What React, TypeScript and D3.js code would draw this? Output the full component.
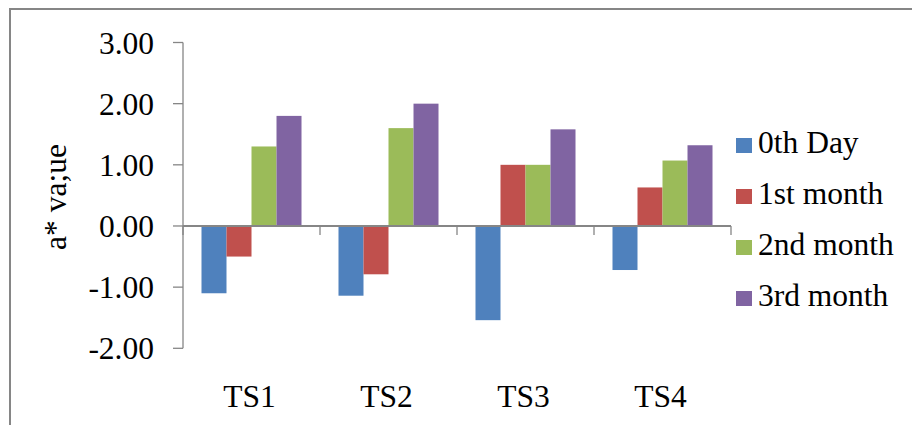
import React from "react";
import * as d3 from "d3";

const categories = ["TS1", "TS2", "TS3", "TS4"];
const seriesNames = ["0th Day", "1st month", "2nd month", "3rd month"];
const day0 = [-1.1, -1.14, -1.54, -0.72];
const month1 = [-0.5, -0.79, 1.0, 0.63];
const month2 = [1.3, 1.6, 1.0, 1.07];
const month3 = [1.8, 2.0, 1.58, 1.32];
const yTicks = [-2, -1, 0, 1, 2, 3];
const colors = ["#4F81BD", "#C0504D", "#9BBB59", "#8064A2"];

const W = 912;
const H = 425;
const FONT = '"Liberation Serif", "Times New Roman", Times, serif';
const textStyle: React.CSSProperties = { fontFamily: FONT, fontSize: "31.5px" };

export default function App() {
  const series = [day0, month1, month2, month3];
  const x0 = d3.scaleBand<string>().domain(categories).range([183, 731]).paddingInner(0.27).paddingOuter(0.135);
  const catScale = d3.scaleBand<string>().domain(categories).range([183, 731]);
  const x1 = d3.scaleBand<number>().domain([0, 1, 2, 3]).range([0, x0.bandwidth()]);
  const y = d3.scaleLinear().domain([-2, 3]).range([348.3, 42.5]);
  const axisColor = "#868686";
  const fmt = (t: number) => d3.format(".2f")(t).replace("\u2212", "-");

  return (
    <svg width={W} height={H} style={{ position: "absolute", left: 0, top: 0, background: "#fff" }}>
      {/* outer frame */}
      <rect x={10} y={9} width={W + 20} height={H + 20} fill="none" stroke={axisColor} strokeWidth={2} />

      {/* bars */}
      {categories.map((c, ci) => (
        <g key={c}>
          {series.map((vals, si) => {
            const v = vals[ci];
            const top = y(Math.max(0, v));
            const bot = y(Math.min(0, v));
            return (
              <rect
                key={si}
                x={(x0(c) as number) + (x1(si) as number)}
                y={top}
                width={x1.bandwidth()}
                height={bot - top}
                fill={colors[si]}
              />
            );
          })}
        </g>
      ))}

      {/* y axis */}
      <line x1={183} x2={183} y1={y(3)} y2={y(-2)} stroke={axisColor} strokeWidth={1.3} />
      {yTicks.map((t) => (
        <g key={t}>
          <line x1={173} x2={183} y1={y(t)} y2={y(t)} stroke={axisColor} strokeWidth={1.3} />
          <text x={154} y={y(t)} dy="0.35em" textAnchor="end" style={textStyle} fill="#000">
            {fmt(t)}
          </text>
        </g>
      ))}

      {/* x axis at zero */}
      <line x1={183} x2={731} y1={y(0)} y2={y(0)} stroke={axisColor} strokeWidth={2} />
      {[...categories.map((c) => catScale(c) as number), 731].map((px, i) => (
        <line key={i} x1={px} x2={px} y1={y(0)} y2={y(0) + 9} stroke={axisColor} strokeWidth={1.3} />
      ))}
      {categories.map((c) => (
        <text
          key={c}
          x={(catScale(c) as number) + catScale.bandwidth() / 2 - 2}
          y={406.5}
          textAnchor="middle"
          style={textStyle}
          fill="#000"
        >
          {c}
        </text>
      ))}

      {/* axis title */}
      <text transform={`translate(66,197) rotate(-90)`} textAnchor="middle" style={textStyle} fill="#000">
        a* va;ue
      </text>

      {/* legend */}
      {seriesNames.map((name, i) => (
        <g key={name} transform={`translate(736, ${153 + i * 51})`}>
          <rect x={0} y={-15} width={16} height={15} fill={colors[i]} />
          <text x={22} y={0} style={textStyle} fill="#000">
            {name}
          </text>
        </g>
      ))}
    </svg>
  );
}
